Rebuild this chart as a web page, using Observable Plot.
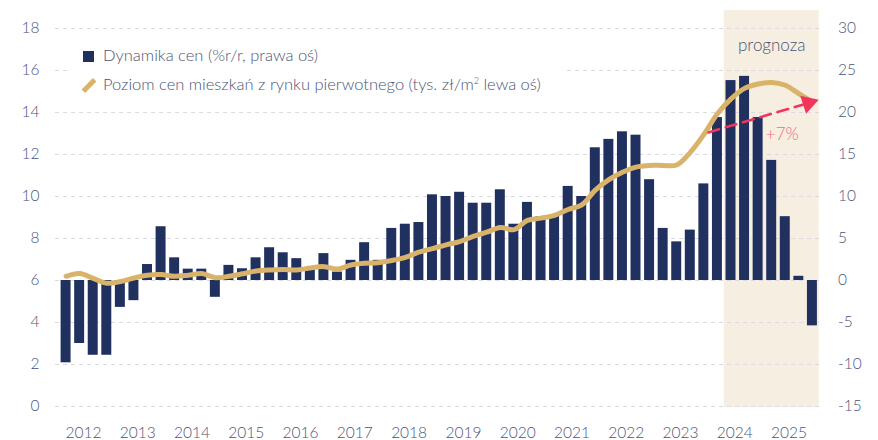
<!DOCTYPE html>
<html><head><meta charset="utf-8">
<script src="https://cdn.jsdelivr.net/npm/d3@7"></script>
<script src="https://cdn.jsdelivr.net/npm/@observablehq/plot@0.6"></script>
<style>
body{margin:0;background:#fff;font-family:Lato,"Noto Sans",sans-serif;}
#wrap{position:relative;width:878px;height:440px;overflow:hidden;}
#legend{position:absolute;left:67px;top:40px;width:496px;height:60px;background:#fff;color:#4b5478;font-size:16.5px;font-weight:300;}
#legend .sq{position:absolute;left:16px;top:11px;width:11px;height:11px;background:#20305f;}
#legend .ln{position:absolute;left:14px;top:43px;width:16px;height:5px;background:#d9b36a;transform:rotate(-45deg);}
#legend .t1{position:absolute;left:36px;top:5px;white-space:nowrap;}
#legend .t2{position:absolute;left:36px;top:34px;white-space:nowrap;}
</style></head><body>
<div id="wrap"></div>
<script>
const startYear = 2012;
// Dynamika cen (% r/r, right axis), quarterly 2012Q1..2025Q4
const dynamika = [-9.8,-7.5,-8.9,-8.9, -3.2,-2.4,1.9,6.4, 2.7,1.35,1.35,-2.0, 1.8,1.4,2.7,3.9,
  3.3,2.6,1.3,3.2, 1.0,2.4,4.5,2.4, 6.2,6.7,6.9,10.2, 10.0,10.5,9.2,9.2,
  10.8,6.7,9.3,7.6, 7.8,11.2,10.0,15.8, 16.8,17.7,17.3,12.0, 6.2,4.6,6.0,11.5,
  19.4,23.8,24.3,19.4, 14.3,7.6,0.5,-5.4];
// Poziom cen (tys. zł/m², left axis), quarterly
const poziom = [6.2,6.33,6.1,5.87, 5.95,6.12,6.25,6.28, 6.2,6.25,6.33,6.13, 6.2,6.32,6.45,6.5,
  6.52,6.5,6.6,6.66, 6.55,6.74,6.82,6.85, 6.95,7.1,7.35,7.52, 7.7,7.85,8.1,8.3,
  8.52,8.42,8.86,8.97, 9.1,9.38,9.6,10.3, 10.8,11.15,11.4,11.48, 11.48,11.5,12.1,12.95,
  13.94,14.65,15.15,15.36, 15.43,15.3,14.9,14.5];
const yearLabels = [2012,2013,2014,2015,2016,2017,2018,2019,2020,2021,2022,2023,2024,2025];
const leftTicks = [0,2,4,6,8,10,12,14,16,18];
const forecast = [{x1: 2024.25, x2: 2026, label: "prognoza"}];
const arrowPts = [{x: 2023.96, y: 13.05}, {x: 2025.8, y: 14.45}];
const note = [{x: 2025.32, y: 12.95, text: "+7%"}];

const rows = dynamika.map((v, i) => ({t: startYear + i / 4, v, p: poziom[i]}));
const toLeft = r => 6 + r * 0.4;
const ink = "#4b5478";

const chart = Plot.plot({
  width: 878, height: 440,
  marginLeft: 55, marginRight: 55.5, marginTop: 28, marginBottom: 34,
  style: {fontFamily: 'Lato, "Noto Sans", sans-serif', fontSize: "15.5px", fontWeight: 300, color: ink, background: "#fff"},
  x: {domain: [2011.93, 2026.07]},
  y: {domain: [0, 18]},
  marks: [
    Plot.rect(forecast, {x1: "x1", x2: "x2", y1: () => 0, y2: () => 18, fill: "#f6eee0", insetTop: -18, insetBottom: -1}),
    Plot.ruleY(leftTicks, {stroke: "#d9d9e2", strokeDasharray: "4,4", strokeWidth: 1}),
    Plot.rect(rows, {x1: "t", x2: d => d.t + 0.25, y1: () => 6, y2: d => toLeft(d.v), fill: "#20305f", insetLeft: 1.8, insetRight: 1.8}),
    Plot.line(rows, {x: d => d.t + 0.125, y: "p", stroke: "#d9b36a", strokeWidth: 5, curve: "catmull-rom"}),
    Plot.line(arrowPts, {x: "x", y: "y", stroke: "#f0365a", strokeWidth: 2.6, strokeDasharray: "11,7"}),
    Plot.dot([arrowPts[1]], {x: "x", y: "y", symbol: "triangle", r: 7, fill: "#f0365a", rotate: 72}),
    Plot.text(note, {x: "x", y: "y", text: "text", fill: "#f2697f", fontSize: 17}),
    Plot.text(forecast, {x: d => (d.x1 + d.x2) / 2, y: () => 18, text: "label", fill: ink, fontSize: 17, dy: 17}),
    Plot.axisY(leftTicks, {anchor: "left", tickSize: 0, tickPadding: 16, label: null, tickFormat: d => d, fill: ink}),
    Plot.axisY(leftTicks, {anchor: "right", tickSize: 0, tickPadding: 15, label: null, tickFormat: d => String(Math.round((d - 6) * 2.5)), fill: ink}),
    Plot.axisX(yearLabels.map(y => y + 0.5), {anchor: "bottom", tickSize: 0, tickPadding: 20, label: null, tickFormat: d => String(Math.floor(d)), fill: ink, dx: -3})
  ]
});
const wrap = document.getElementById("wrap");
wrap.appendChild(chart);
const legend = document.createElement("div");
legend.id = "legend";
legend.innerHTML = '<div class="sq"></div><div class="t1">Dynamika cen (%r/r, prawa oś)</div>' +
  '<div class="ln"></div><div class="t2">Poziom cen mieszkań z rynku pierwotnego (tys. zł/m<sup style="font-size:9px">2</sup> lewa oś)</div>';
wrap.appendChild(legend);
</script>
</body></html>
